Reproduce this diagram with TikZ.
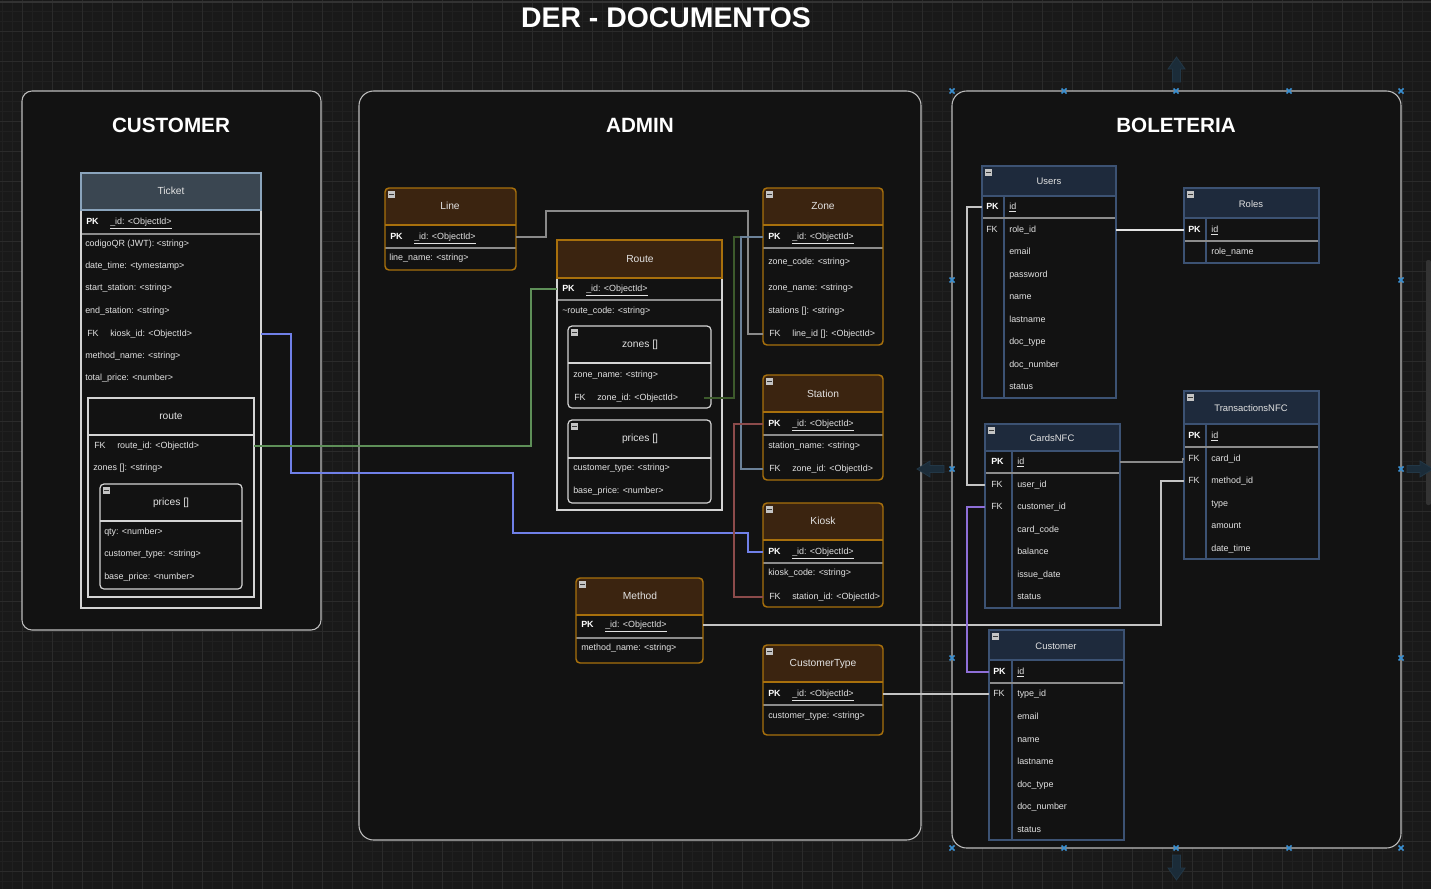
\documentclass[tikz,border=0pt]{standalone}
\usepackage{fontspec}
\setmainfont{Liberation Sans}
\usetikzlibrary{fit}
\definecolor{canvas}{HTML}{191919}
\definecolor{gridmin}{HTML}{202020}
\definecolor{gridmaj}{HTML}{2B2B2B}
\definecolor{contfill}{HTML}{121212}
\definecolor{contline}{HTML}{BDBDBD}
\definecolor{txt}{HTML}{E2E2E2}
\definecolor{brownfill}{HTML}{3B2410}
\definecolor{orng}{HTML}{A8700C}
\definecolor{slatefill}{HTML}{3A4651}
\definecolor{slateline}{HTML}{8AA4BC}
\definecolor{navyfill}{HTML}{1E2A3C}
\definecolor{navyline}{HTML}{3C5273}
\definecolor{divgray}{HTML}{8C8C8C}
\definecolor{tkline}{HTML}{D4D4D4}
\definecolor{iconfill}{HTML}{C4C4C4}
\definecolor{icondark}{HTML}{3A3A3A}
\definecolor{cblue}{HTML}{7080E8}
\definecolor{cgreen}{HTML}{5E8F58}
\definecolor{cdkgreen}{HTML}{3D5A2C}
\definecolor{cgray}{HTML}{8A8A8A}
\definecolor{cslate}{HTML}{6C8299}
\definecolor{cred}{HTML}{8C4B4B}
\definecolor{clight}{HTML}{C4C4C4}
\definecolor{cwhite}{HTML}{E4E4E4}
\definecolor{cpurple}{HTML}{8E6FD8}
\definecolor{handlec}{HTML}{3A8FD0}
\definecolor{hoverfill}{HTML}{1B2C39}
\definecolor{hoverline}{HTML}{223746}
\definecolor{scrollc}{HTML}{333333}
\newcount\fldn
\newcommand\fsF{\fontsize{6.7}{8}\selectfont}
\newcommand\fsT{\fontsize{7.7}{9}\selectfont}
\newcommand\fsN{\fontsize{7.1}{8.5}\selectfont}
\newcommand\fsC{\fontsize{15.5}{18}\selectfont\bfseries}
\newcommand\fsD{\fontsize{21.3}{24}\selectfont\bfseries}
\tikzset{
  fldst/.style={anchor=west, inner sep=0pt, text=txt, font=\fsF, text height=4.9pt, text depth=1.5pt},
  pkst/.style={anchor=west, inner sep=0pt, text=white, font=\fsF\bfseries, text height=4.9pt, text depth=1.5pt},
  ttlst/.style={inner sep=0pt, text=txt, font=\fsT},
  nttlst/.style={inner sep=0pt, text=txt, font=\fsN},
  contst/.style={draw=contline, fill=contfill, line width=0.8pt},
  contttl/.style={inner sep=0pt, text=white, font=\fsC},
  conn/.style={line width=0.8pt},
  fitst/.style={inner sep=0pt},
}
\newcommand\fld[3]{\global\advance\fldn by 1 \node[fldst] (f\the\fldn) at (#1,#2) {#3};}
\newcommand\pkf[2]{\global\advance\fldn by 1 \node[pkst] (f\the\fldn) at (#1,#2) {PK};}
\newcommand\fkf[2]{\global\advance\fldn by 1 \node[fldst] (f\the\fldn) at (#1,#2) {FK};}
\newcommand\nfld[4]{\node[fldst] (#1) at (#2,#3) {#4};}
\newcommand\npk[3]{\node[pkst] (#1) at (#2,#3) {PK};}
\newcommand\micon[2]{%
  \begin{scope}[shift={(#1,#2)}]
    \fill[iconfill] (3,3) rectangle (10,10);
    \draw[icondark, line width=0.7pt] (4.3,6.5) -- (8.7,6.5);
  \end{scope}}
% brown table: name x1 y1 x2 y2 yheader ypkdivider
\newcommand\btab[7]{%
  \fill[contfill, rounded corners=3pt] (#2,#3) rectangle (#4,#5);
  \begin{scope}
    \clip[rounded corners=3pt] (#2,#3) rectangle (#4,#5);
    \fill[brownfill] (#2,#3) rectangle (#4,#6);
  \end{scope}
  \draw[orng, line width=0.9pt] (#2,#6) -- (#4,#6);
  \draw[divgray, line width=0.9pt] (#2,#7) -- (#4,#7);
  \draw[orng, line width=1.1pt, rounded corners=3pt] (#2,#3) rectangle (#4,#5);
  \node[fitst, fit={(#2,#3)(#4,#5)}] (#1) {};
  \micon{#2}{#3}}
% navy table: name x1 y1 x2 y2 yheader ypkdivider xcol
\newcommand\ntab[8]{%
  \fill[contfill] (#2,#3) rectangle (#4,#5);
  \fill[navyfill] (#2,#3) rectangle (#4,#6);
  \draw[navyline, line width=0.9pt] (#2,#6) -- (#4,#6);
  \draw[navyline, line width=0.9pt] (#8,#6) -- (#8,#5);
  \draw[divgray, line width=1pt] (#2,#7) -- (#4,#7);
  \draw[navyline, line width=1pt] (#2,#3) rectangle (#4,#5);
  \node[fitst, fit={(#2,#3)(#4,#5)}] (#1) {};
  \micon{#2}{#3}}
% inner rounded white box: name x1 y1 x2 y2 yheader
\newcommand\wbox[6]{%
  \draw[tkline, line width=0.9pt, rounded corners=3pt] (#2,#3) rectangle (#4,#5);
  \draw[tkline, line width=0.9pt] (#2,#6) -- (#4,#6);
  \node[fitst, fit={(#2,#3)(#4,#5)}] (#1) {};
  \micon{#2}{#3}}
\newcommand\hmark[2]{\draw[handlec, line width=1.1pt] (#1-2.5,#2-2.5) -- (#1+2.5,#2+2.5) (#1-2.5,#2+2.5) -- (#1+2.5,#2-2.5);}
\begin{document}
\begin{tikzpicture}[x=0.75pt,y=-0.75pt]
\useasboundingbox (0,0) rectangle (1431,889);
% canvas and grid
\fill[canvas] (0,0) rectangle (1431,889);
\foreach \x in {2,12,...,1431} \draw[gridmin, line width=0.4pt] (\x,0) -- (\x,889);
\foreach \y in {1,11,...,889} \draw[gridmin, line width=0.4pt] (0,\y) -- (1431,\y);
\foreach \x in {22,52,...,1431} \draw[gridmaj, line width=0.5pt] (\x,0) -- (\x,889);
\foreach \y in {1,31,...,889} \draw[gridmaj, line width=0.5pt] (0,\y) -- (1431,\y);
\draw[scrollc, line width=1.2pt] (0,2) -- (1431,2);
\fill[scrollc, rounded corners=1.5pt] (1426,260) rectangle (1431,505);

\node[inner sep=0pt, text=white, font=\fsD] (maintitle) at (666,18) {DER - DOCUMENTOS};

% containers
\draw[contst, rounded corners=7.5pt] (22,91) rectangle (321,630);
\node[fitst, fit={(22,91)(321,630)}] (custc) {};
\draw[contst, rounded corners=11pt] (359,91) rectangle (921,840);
\node[fitst, fit={(359,91)(921,840)}] (adminc) {};
\draw[contst, rounded corners=11pt] (952,91) rectangle (1401,848);
\node[fitst, fit={(952,91)(1401,848)}] (bolc) {};
\node[contttl] (custttl) at (171,125) {CUSTOMER};
\node[contttl] (adminttl) at (640,125) {ADMIN};
\node[contttl] (bolttl) at (1176,125) {BOLETERIA};

% ================= Ticket =================
\fill[slatefill] (81,173) rectangle (261,210);
\fill[contfill] (81,210) rectangle (261,608);
\draw[divgray, line width=0.9pt] (81,234) -- (261,234);
\draw[tkline, line width=1pt] (81,210) rectangle (261,608);
\draw[slateline, line width=1pt] (81,173) rectangle (261,210);
\node[fitst, fit={(81,173)(261,608)}] (ticket) {};
\node[ttlst] (tkttl) at (171,191) {Ticket};
\pkf{86}{222}
\fld{110}{222}{\underline{\_id: <ObjectId>}}
\fld{85}{244}{codigoQR (JWT): <string>}
\fld{85}{266}{date\_time: <tymestamp>}
\fld{85}{288}{start\_station: <string>}
\fld{85}{311}{end\_station: <string>}
\fkf{87}{334}
\nfld{tkkiosk}{110}{334}{kiosk\_id: <ObjectId>}
\fld{85}{356}{method\_name: <string>}
\fld{85}{378}{total\_price: <number>}
% route subdocument
\draw[tkline, line width=0.9pt] (88,398) rectangle (254,597);
\draw[tkline, line width=0.9pt] (88,435) -- (254,435);
\node[fitst, fit={(88,398)(254,597)}] (tkroutebox) {};
\node[ttlst] (tkroutettl) at (171,416) {route};
\fkf{94}{446}
\nfld{tkroute}{117}{446}{route\_id: <ObjectId>}
\fld{93}{468}{zones []: <string>}
\wbox{tkprices}{100}{484}{242}{589}{521}
\node[ttlst] (tkpricesttl) at (171,503) {prices []};
\fld{104}{532}{qty: <number>}
\fld{104}{554}{customer\_type: <string>}
\fld{104}{577}{base\_price: <number>}

% ================= Line =================
\btab{line}{385}{188}{516}{270}{225}{248}
\node[ttlst] (linettl) at (450,206) {Line};
\pkf{390}{237}
\nfld{lnpk}{414}{237}{\underline{\_id: <ObjectId>}}
\fld{389}{258}{line\_name: <string>}

% ================= Route =================
\fill[contfill] (557,240) rectangle (722,510);
\fill[brownfill] (557,240) rectangle (722,278);
\draw[divgray, line width=0.9pt] (557,300) -- (722,300);
\draw[tkline, line width=1pt] (557,278) rectangle (722,510);
\draw[orng, line width=1.1pt] (557,240) rectangle (722,278);
\node[fitst, fit={(557,240)(722,510)}] (routet) {};
\node[ttlst] (routettl) at (640,259) {Route};
\npk{rtpk}{562}{289}
\fld{586}{289}{\underline{\_id: <ObjectId>}}
\fld{562}{311}{\textasciitilde route\_code: <string>}
\wbox{zbox}{568}{326}{711}{408}{363}
\node[ttlst] (zboxttl) at (640,345) {zones []};
\fld{573}{375}{zone\_name: <string>}
\fkf{574}{398}
\nfld{rtzone}{597}{398}{zone\_id: <ObjectId>}
\wbox{pbox}{568}{420}{711}{503}{458}
\node[ttlst] (pboxttl) at (640,439) {prices []};
\fld{573}{468}{customer\_type: <string>}
\fld{573}{491}{base\_price: <number>}

% ================= Zone =================
\btab{zone}{763}{188}{883}{345}{225}{248}
\node[ttlst] (zonettl) at (823,206) {Zone};
\npk{znpk}{768}{237}
\fld{792}{237}{\underline{\_id: <ObjectId>}}
\fld{768}{262}{zone\_code: <string>}
\fld{768}{288}{zone\_name: <string>}
\fld{768}{311}{stations []: <string>}
\fkf{769}{334}
\nfld{znline}{792}{334}{line\_id []: <ObjectId>}

% ================= Station =================
\btab{station}{763}{375}{883}{480}{412}{435}
\node[ttlst] (stationttl) at (823,394) {Station};
\npk{stpk}{768}{424}
\fld{792}{424}{\underline{\_id: <ObjectId>}}
\fld{768}{446}{station\_name: <string>}
\fkf{769}{469}
\nfld{stzone}{792}{469}{zone\_id: <ObjectId>}

% ================= Kiosk =================
\btab{kiosk}{763}{503}{883}{607}{540}{563}
\node[ttlst] (kioskttl) at (823,521) {Kiosk};
\npk{kipk}{768}{552}
\fld{792}{552}{\underline{\_id: <ObjectId>}}
\fld{768}{573}{kiosk\_code: <string>}
\fkf{769}{597}
\nfld{kistation}{792}{597}{station\_id: <ObjectId>}

% ================= Method =================
\btab{method}{576}{578}{703}{663}{615}{638}
\node[ttlst] (methodttl) at (640,596) {Method};
\npk{mtpk}{581}{625}
\fld{605}{625}{\underline{\_id: <ObjectId>}}
\fld{581}{648}{method\_name: <string>}

% ================= CustomerType =================
\btab{ctype}{763}{645}{883}{735}{682}{705}
\node[ttlst] (ctypettl) at (823,664) {CustomerType};
\npk{ctpk}{768}{694}
\fld{792}{694}{\underline{\_id: <ObjectId>}}
\fld{768}{716}{customer\_type: <string>}

% ================= Users =================
\ntab{users}{982}{166}{1116}{398}{196}{218}{1004}
\node[nttlst] (usersttl) at (1049,181) {Users};
\npk{uspk}{986}{207}
\fld{1009}{207}{\underline{id}}
\fkf{986}{230}
\nfld{usrole}{1009}{230}{role\_id}
\fld{1009}{252}{email}
\fld{1009}{275}{password}
\fld{1009}{297}{name}
\fld{1009}{320}{lastname}
\fld{1009}{342}{doc\_type}
\fld{1009}{365}{doc\_number}
\fld{1009}{387}{status}

% ================= Roles =================
\ntab{roles}{1184}{188}{1319}{263}{218}{241}{1206}
\node[nttlst] (rolesttl) at (1251,204) {Roles};
\npk{ropk}{1188}{230}
\fld{1211}{230}{\underline{id}}
\fld{1211}{252}{role\_name}

% ================= CardsNFC =================
\ntab{cards}{985}{424}{1120}{608}{451}{473}{1012}
\node[nttlst] (cardsttl) at (1052,438) {CardsNFC};
\npk{cdpk}{991}{462}
\fld{1017}{462}{\underline{id}}
\fkf{991}{485}
\nfld{cduser}{1017}{485}{user\_id}
\fkf{991}{507}
\nfld{cdcust}{1017}{507}{customer\_id}
\fld{1017}{530}{card\_code}
\fld{1017}{552}{balance}
\fld{1017}{575}{issue\_date}
\fld{1017}{597}{status}

% ================= TransactionsNFC =================
\ntab{trans}{1184}{391}{1319}{559}{424}{447}{1206}
\node[nttlst] (transttl) at (1251,408) {TransactionsNFC};
\pkf{1188}{436}
\fld{1211}{436}{\underline{id}}
\fkf{1188}{459}
\nfld{trcard}{1211}{459}{card\_id}
\fkf{1188}{481}
\nfld{trmethod}{1211}{481}{method\_id}
\fld{1211}{504}{type}
\fld{1211}{526}{amount}
\fld{1211}{549}{date\_time}

% ================= Customer =================
\ntab{cust}{989}{630}{1124}{840}{660}{683}{1012}
\node[nttlst] (custttl2) at (1056,646) {Customer};
\npk{cupk}{993}{672}
\fld{1017}{672}{\underline{id}}
\fkf{993}{694}
\nfld{cutype}{1017}{694}{type\_id}
\fld{1017}{717}{email}
\fld{1017}{740}{name}
\fld{1017}{762}{lastname}
\fld{1017}{785}{doc\_type}
\fld{1017}{807}{doc\_number}
\fld{1017}{830}{status}

% ================= connectors =================
\draw[conn, cblue] (ticket.east |- tkkiosk) -| (291,473) -| (513,533) -| (748,552) -- (kiosk.west |- kipk);
\draw[conn, cgreen] (tkroutebox.east |- tkroute) -| (531,289) -- (routet.west |- rtpk);
\draw[conn, cgray] (line.east |- lnpk) -| (546,211) -| (748,334) -- (zone.west |- znline);
\draw[conn, cdkgreen] ([xshift=-5.25pt]zbox.east |- rtzone) -| (734,237) -- (zone.west |- znpk);
\draw[conn, cslate] (station.west |- stzone) -| (741,237) -- (zone.west |- znpk);
\draw[conn, cred] (kiosk.west |- kistation) -| (734,424) -- (station.west |- stpk);
\draw[conn, clight] (method.east |- mtpk) -| (1161,481) -- (trans.west |- trmethod);
\draw[conn, clight] (ctype.east |- ctpk) -- (cust.west |- cutype);
\draw[conn, clight] (users.west |- uspk) -| (967,485) -- (cards.west |- cduser);
\draw[conn, cwhite] (users.east |- usrole) -- (roles.west |- ropk);
\draw[conn, cgray] (cards.east |- cdpk) -| ([xshift=-0.75pt]trans.west |- trcard) -- (trans.west |- trcard);
\draw[conn, cpurple] (cards.west |- cdcust) -| (967,672) -- (cust.west |- cupk);

% ================= selection handles and hover arrows =================
\foreach \hx in {952,1064,1176,1289,1401} {\hmark{\hx}{91}\hmark{\hx}{848}}
\foreach \hy in {280,469,658} {\hmark{952}{\hy}\hmark{1401}{\hy}}
\filldraw[fill=hoverfill, draw=hoverline, line width=0.6pt] (1172.5,82) -- (1172.5,69) -- (1168,69) -- (1176.5,57) -- (1185,69) -- (1180.5,69) -- (1180.5,82) -- cycle;
\filldraw[fill=hoverfill, draw=hoverline, line width=0.6pt] (1172.5,855) -- (1172.5,868) -- (1168,868) -- (1176.5,880) -- (1185,868) -- (1180.5,868) -- (1180.5,855) -- cycle;
\filldraw[fill=hoverfill, draw=hoverline, line width=0.6pt] (944,465.5) -- (930,465.5) -- (930,461) -- (917,469) -- (930,477) -- (930,472.5) -- (944,472.5) -- cycle;
\filldraw[fill=hoverfill, draw=hoverline, line width=0.6pt] (1407,465.5) -- (1420,465.5) -- (1420,461) -- (1433,469) -- (1420,477) -- (1420,472.5) -- (1407,472.5) -- cycle;
\end{tikzpicture}
\end{document}
